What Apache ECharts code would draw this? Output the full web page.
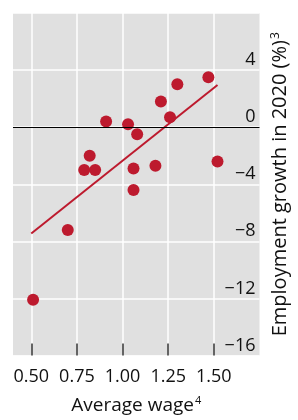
<!DOCTYPE html>
<html>
<head>
<meta charset="utf-8">
<script src="https://cdn.jsdelivr.net/npm/echarts@6/dist/echarts.min.js"></script>
<style>
  html, body { margin: 0; padding: 0; background: #fff; }
  #main { width: 298px; height: 420px; }
</style>
</head>
<body>
<div id="main"></div>
<script>
// average wage vs employment growth
let wages = [0.51, 0.70, 0.79, 0.82, 0.85, 0.91, 1.03, 1.06, 1.06, 1.08, 1.18, 1.21, 1.26, 1.30, 1.47, 1.52];
let growth = [-12.1, -7.2, -3.0, -2.0, -3.0, 0.4, 0.2, -2.9, -4.4, -0.5, -2.7, 1.8, 0.7, 3.0, 3.5, -2.4];
let fitX = [0.5, 1.52];
let fitY = [-7.45, 2.95];
let xTicks = [0.5, 0.75, 1.0, 1.25, 1.5];
let yTicks = [-16, -12, -8, -4, 0, 4];

let red = '#bd1a2e';
let font = 'Open Sans';
let ink = '#111';

let chart = echarts.init(document.getElementById('main'));

let points = wages.map((w, i) => [w, growth[i]]);
let line = fitX.map((x, i) => [x, fitY[i]]);

let option = {
  animation: false,
  textStyle: { fontFamily: font },
  grid: { left: 13, right: 34, top: 13, bottom: 64, show: true, backgroundColor: '#e0e0e0', borderWidth: 0 },
  xAxis: {
    type: 'value',
    min: 0.4,
    max: 1.75,
    interval: 0.25,
    name: '{t|Average wage}{s|4}',
    nameLocation: 'middle',
    nameGap: 40,
    nameTextStyle: {
      rich: {
        t: { fontSize: 19, color: ink, fontFamily: font },
        s: { fontSize: 11, color: ink, fontFamily: font, verticalAlign: 'top', padding: [0, 0, 9, 1] }
      }
    },
    axisLine: { show: false, onZero: false },
    axisTick: { show: true, inside: true, length: 12, lineStyle: { color: '#333', width: 1.5 },
      customValues: xTicks },
    axisLabel: {
      customValues: xTicks,
      margin: 12,
      fontSize: 18,
      color: ink,
      formatter: v => v.toFixed(2)
    },
    splitLine: { show: true, lineStyle: { color: '#ffffff', width: 1.5 } }
  },
  yAxis: {
    type: 'value',
    position: 'right',
    min: -16,
    max: 8,
    interval: 4,
    name: '{t|Employment growth in 2020 (%)}{s|3}',
    nameLocation: 'middle',
    nameRotate: 90,
    nameGap: 10,
    nameTextStyle: {
      rich: {
        t: { fontSize: 20, color: ink, fontFamily: font },
        s: { fontSize: 12, color: ink, fontFamily: font, verticalAlign: 'top', padding: [0, 0, 9, 1] }
      }
    },
    axisLine: { show: false },
    axisTick: { show: false },
    axisLabel: {
      inside: true,
      margin: 4,
      fontSize: 18,
      color: ink,
      verticalAlign: 'bottom',
      padding: [0, 0, 1, 0],
      customValues: yTicks,
      formatter: v => String(v).replace('-', '\u2212')
    },
    splitLine: { show: true, lineStyle: { color: '#ffffff', width: 1.5 } }
  },
  series: [
    {
      type: 'line',
      data: line,
      symbol: 'none',
      lineStyle: { color: red, width: 2 },
      markLine: {
        silent: true,
        symbol: 'none',
        label: { show: false },
        lineStyle: { color: '#000', width: 1, type: 'solid' },
        data: [{ yAxis: 0 }]
      },
      z: 3
    },
    {
      type: 'scatter',
      data: points,
      symbolSize: 12,
      itemStyle: { color: red, opacity: 1 },
      z: 4
    }
  ]
};
chart.setOption(option);
</script>
</body>
</html>
